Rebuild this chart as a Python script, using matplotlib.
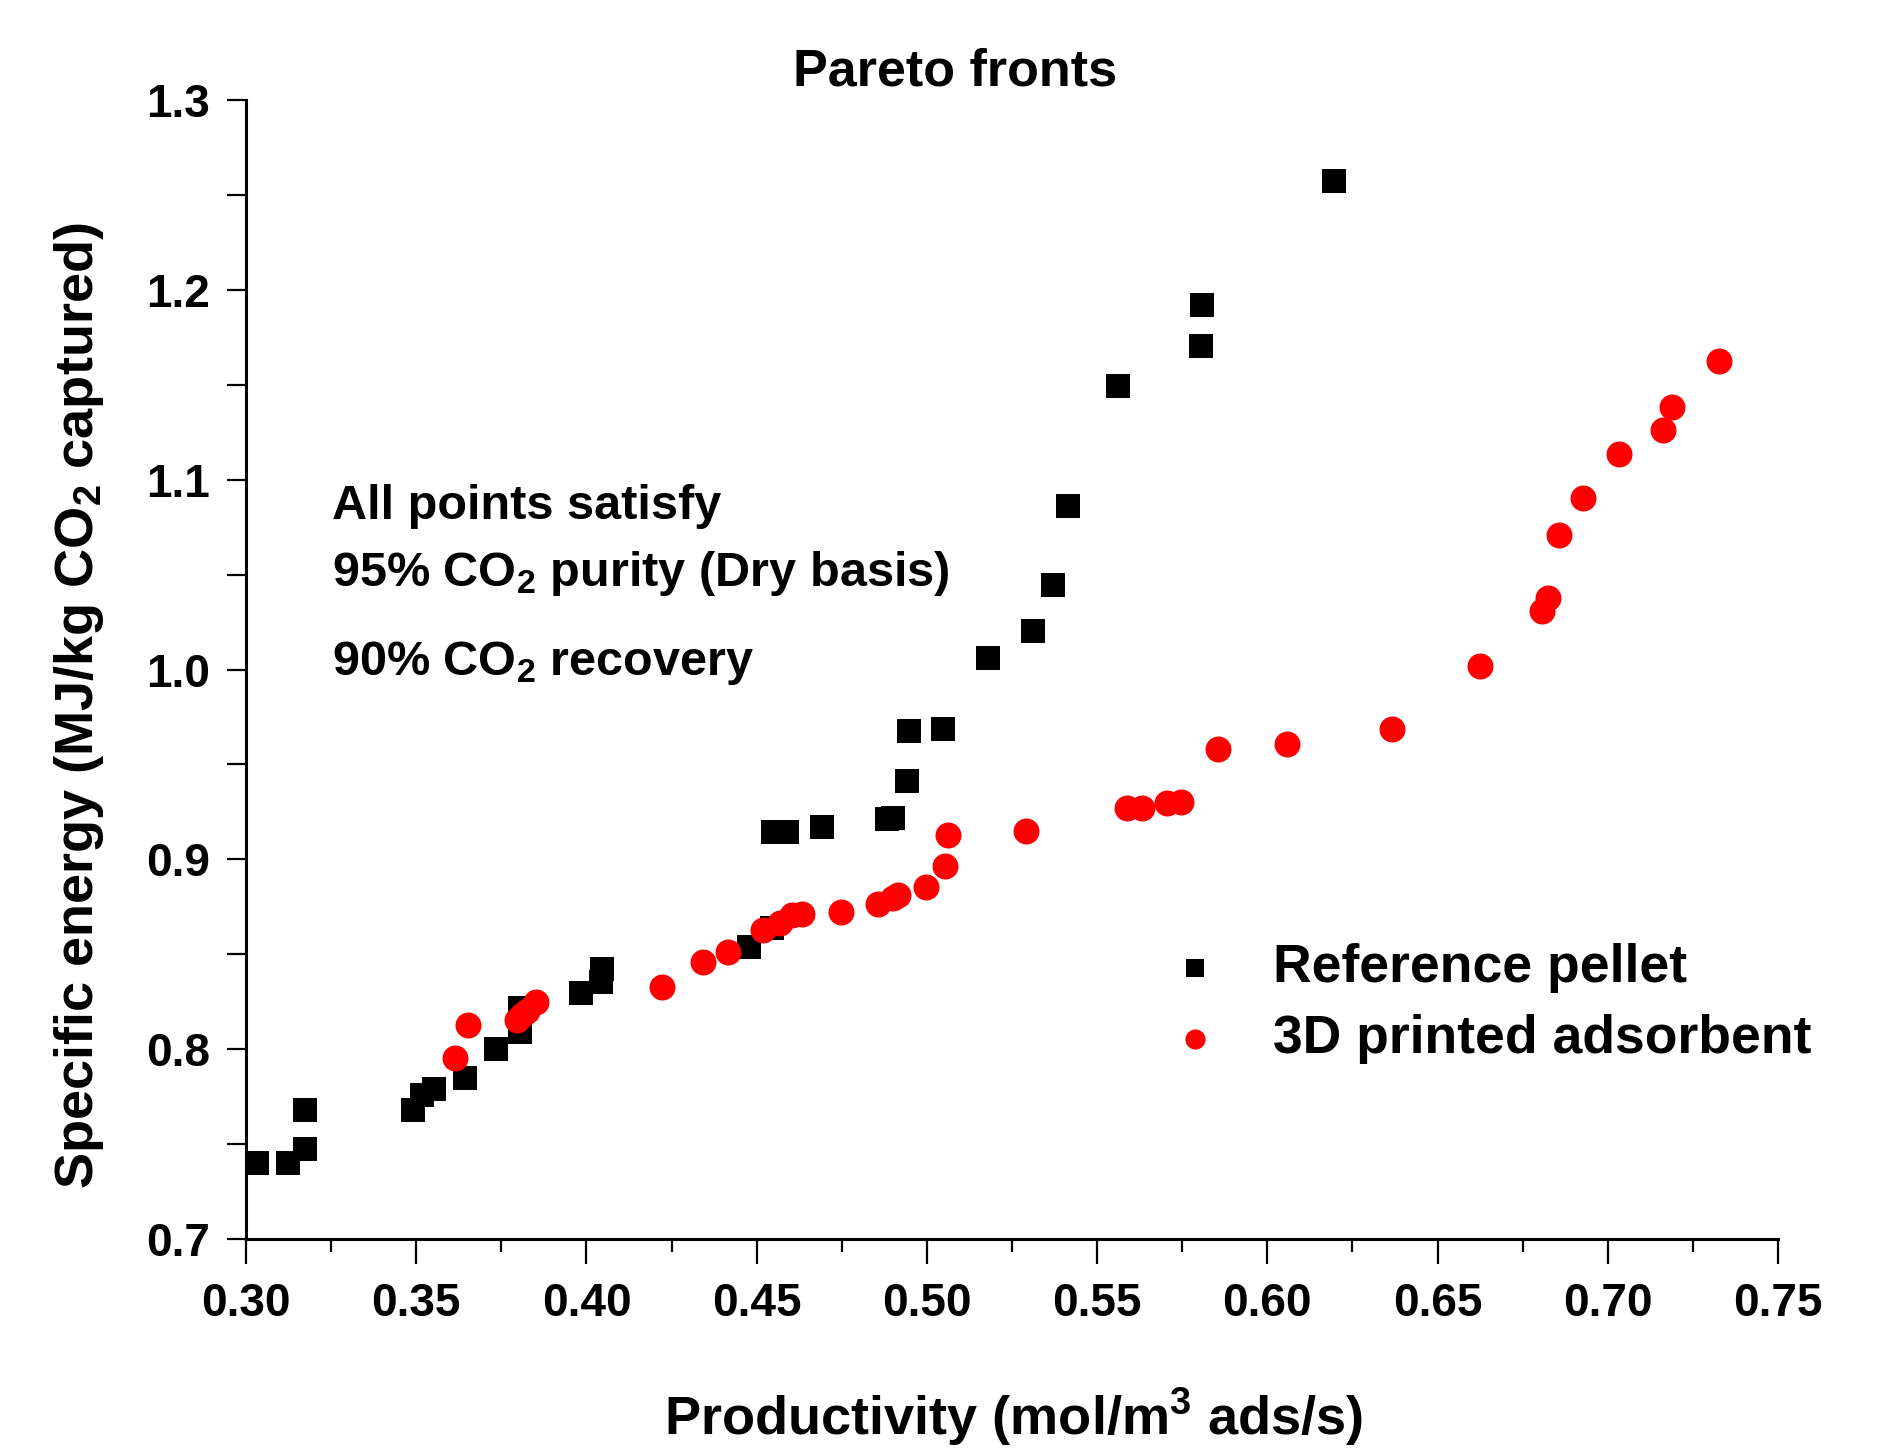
import matplotlib
matplotlib.use("Agg")
import matplotlib.pyplot as plt
from matplotlib.ticker import MultipleLocator

plt.rcParams['font.family'] = ['Liberation Sans', 'DejaVu Sans']
plt.rcParams['font.weight'] = 'bold'
plt.rcParams['mathtext.fontset'] = 'custom'
plt.rcParams['mathtext.rm'] = 'Liberation Sans:bold'
plt.rcParams['mathtext.bf'] = 'Liberation Sans:bold'
plt.rcParams['mathtext.it'] = 'Liberation Sans:bold'

# Reference pellet (black squares)
ref_x = [0.3031, 0.3124, 0.3173, 0.3173, 0.3490, 0.3518, 0.3552, 0.3644, 0.3734,
         0.3805, 0.3805, 0.3983, 0.4043, 0.4045, 0.4477, 0.4544, 0.4548, 0.4588,
         0.4691, 0.4882, 0.4900, 0.4941, 0.4948, 0.5046, 0.5180, 0.5313, 0.5370,
         0.5414, 0.5561, 0.5805, 0.5808, 0.6197]
ref_y = [0.7399, 0.7400, 0.7474, 0.7680, 0.7680, 0.7759, 0.7789, 0.7850, 0.8000,
         0.8092, 0.8217, 0.8294, 0.8356, 0.8422, 0.8540, 0.8637, 0.9146, 0.9146,
         0.9169, 0.9212, 0.9216, 0.9413, 0.9676, 0.9685, 1.0063, 1.0204, 1.0445,
         1.0862, 1.1491, 1.1705, 1.1922, 1.2575]

# 3D printed adsorbent (red circles)
prt_x = [0.3614, 0.3651, 0.3795, 0.3812, 0.3826, 0.3852, 0.4223, 0.4343, 0.4417,
         0.4518, 0.4569, 0.4603, 0.4632, 0.4747, 0.4857, 0.4901, 0.4916, 0.4997,
         0.5053, 0.5063, 0.5292, 0.5587, 0.5631, 0.5704, 0.5746, 0.5856, 0.6057,
         0.6367, 0.6624, 0.6808, 0.6825, 0.6858, 0.6928, 0.7033, 0.7161, 0.7188,
         0.7327]
prt_y = [0.7952, 0.8127, 0.8154, 0.8180, 0.8200, 0.8250, 0.8329, 0.8461, 0.8513,
         0.8628, 0.8663, 0.8707, 0.8711, 0.8724, 0.8765, 0.8795, 0.8812, 0.8856,
         0.8967, 0.9128, 0.9149, 0.9269, 0.9272, 0.9295, 0.9304, 0.9581, 0.9606,
         0.9685, 1.0020, 1.0308, 1.0375, 1.0707, 1.0905, 1.1135, 1.1262, 1.1384,
         1.1625]

x_ticks = [0.30, 0.35, 0.40, 0.45, 0.50, 0.55, 0.60, 0.65, 0.70, 0.75]
y_ticks = [0.7, 0.8, 0.9, 1.0, 1.1, 1.2, 1.3]

fig = plt.figure(figsize=(18.84, 14.49), dpi=100)
ax = fig.add_axes([0.1306, 0.1449, 0.8131, 0.7861])

ax.scatter(ref_x, ref_y, marker='s', s=275, color='black', linewidths=0,
           label='Reference pellet', zorder=3)
ax.scatter(prt_x, prt_y, marker='o', s=350, color='red', linewidths=0,
           label='3D printed adsorbent', zorder=4)

ax.set_xlim(0.30, 0.75)
ax.set_ylim(0.7, 1.3)
ax.set_xticks(x_ticks)
ax.set_xticklabels([f"{v:.2f}" for v in x_ticks])
ax.set_yticks(y_ticks)
ax.set_yticklabels([f"{v:.1f}" for v in y_ticks])
ax.xaxis.set_minor_locator(MultipleLocator(0.025))
ax.yaxis.set_minor_locator(MultipleLocator(0.05))

for side in ['top', 'right']:
    ax.spines[side].set_visible(False)
for side in ['left', 'bottom']:
    ax.spines[side].set_linewidth(2.2)

ax.tick_params(axis='x', which='major', direction='out', length=18, width=1.6,
               labelsize=33, pad=13)
ax.tick_params(axis='x', which='minor', direction='out', length=9, width=1.6)
ax.tick_params(axis='y', which='major', direction='out', length=14, width=1.6,
               labelsize=33, pad=12)
ax.tick_params(axis='y', which='minor', direction='out', length=14, width=1.6)
for lab in ax.get_xticklabels() + ax.get_yticklabels():
    lab.set_fontweight('bold')

fig.text(0.507, 0.950, 'Pareto fronts', ha='center', va='center',
         fontsize=37.5, fontweight='bold')
fig.text(0.538, 0.022, r'Productivity (mol/m$^{3}$ ads/s)', ha='center',
         va='center', fontsize=39, fontweight='bold')
fig.text(0.042, 0.513, r'Specific energy (MJ/kg CO$_{2}$ captured)', ha='center',
         va='center', rotation=90, fontsize=39, fontweight='bold')

ax.text(0.056, 0.632, 'All points satisfy', transform=ax.transAxes,
        fontsize=35, fontweight='bold', va='baseline')
ax.text(0.056, 0.573, r'95% CO$_{2}$ purity (Dry basis)', transform=ax.transAxes,
        fontsize=35, fontweight='bold', va='baseline')
ax.text(0.056, 0.495, r'90% CO$_{2}$ recovery', transform=ax.transAxes,
        fontsize=35, fontweight='bold', va='baseline')

leg = ax.legend(loc='upper left', bbox_to_anchor=(0.602, 0.260), frameon=False,
                fontsize=38.5, borderpad=0, borderaxespad=0, handlelength=1.0,
                handletextpad=0.95, labelspacing=0.40)
leg.legend_handles[0].set_sizes([150])
leg.legend_handles[1].set_sizes([210])
for t in leg.get_texts():
    t.set_fontweight('bold')

fig.savefig('out.png', dpi=100, facecolor='white')
